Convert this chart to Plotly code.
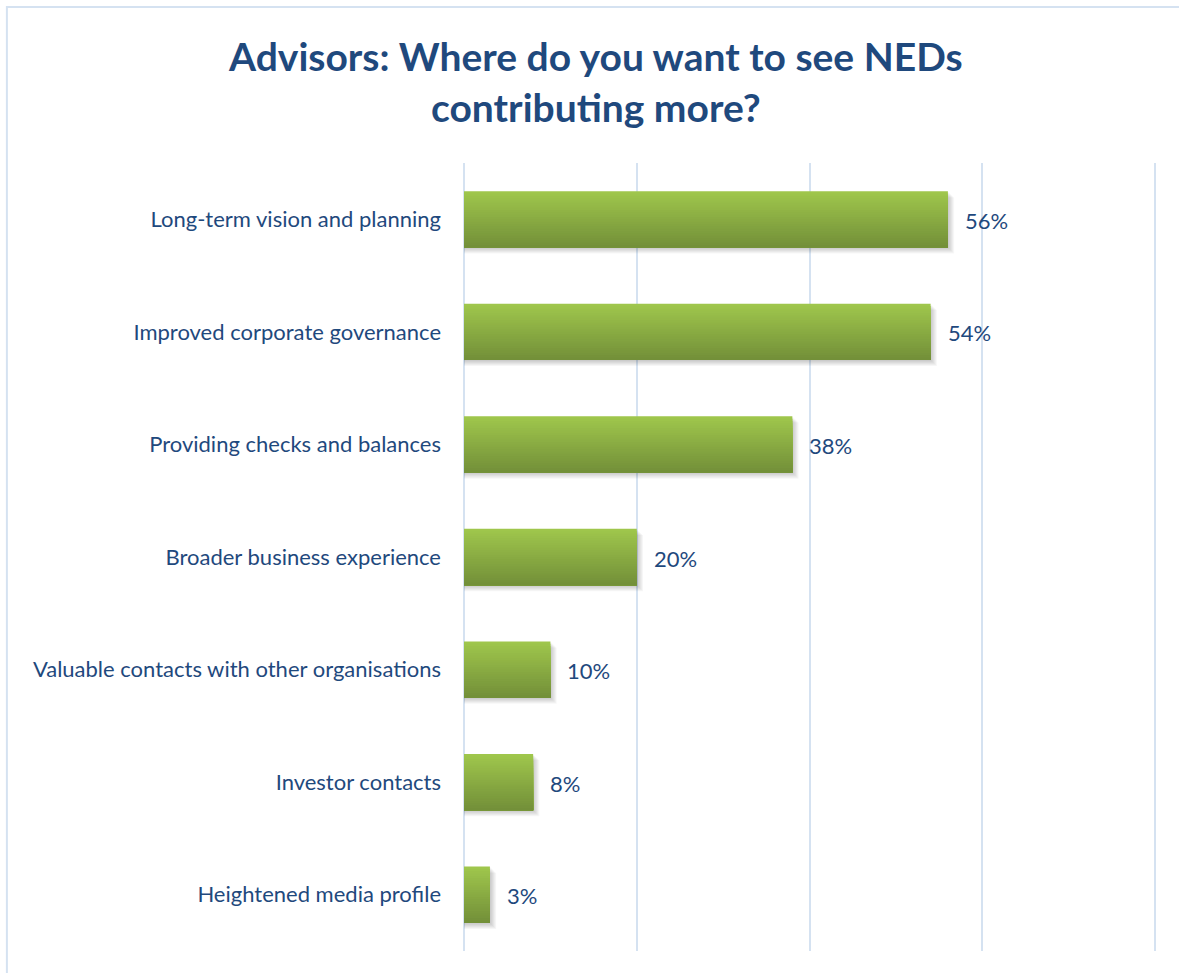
import plotly.graph_objects as go

# Survey responses (share of advisors), listed top to bottom
categories = [
    "Long-term vision and planning",
    "Improved corporate governance",
    "Providing checks and balances",
    "Broader business experience",
    "Valuable contacts with other organisations",
    "Investor contacts",
    "Heightened media profile",
]
values = [0.56, 0.54, 0.38, 0.20, 0.10, 0.08, 0.03]
value_labels = ["56%", "54%", "38%", "20%", "10%", "8%", "3%"]

TEXT = "#1f497d"
GRID = "#d5e2f1"
FONT = "Lato"

TOP_RGB = (159, 198, 76)
BOTTOM_RGB = (115, 144, 57)
BAR_W = 0.5
N_STRIPES = 24

fig = go.Figure()

# soft drop shadow underneath each bar
for j in range(1, 7):
    fig.add_trace(go.Bar(
        y=categories, x=[v + 0.0012 * j for v in values], orientation="h",
        width=BAR_W, offset=-BAR_W / 2 - 0.009 * j,
        marker=dict(color="rgba(0,0,0,0.035)", line=dict(width=0)),
        hoverinfo="skip", showlegend=False,
    ))

# vertical gradient fill: each layer spans from the bar bottom up to its own top edge
step = BAR_W / N_STRIPES
for k in range(N_STRIPES):
    t = k / (N_STRIPES - 1)
    r, g, b = (round(TOP_RGB[i] + (BOTTOM_RGB[i] - TOP_RGB[i]) * t) for i in range(3))
    fig.add_trace(go.Bar(
        y=categories, x=values, orientation="h",
        width=BAR_W - k * step, offset=-BAR_W / 2,
        marker=dict(color=f"rgb({r},{g},{b})", line=dict(width=0)),
        hoverinfo="skip", showlegend=False,
    ))

# value labels just past the end of each bar
for cat, v, lab in zip(categories, values, value_labels):
    fig.add_annotation(
        x=v, y=cat, text=lab, showarrow=False,
        xanchor="left", yanchor="middle", xshift=15, yshift=-1,
        font=dict(family=FONT, size=22, color=TEXT),
    )

# chart title, two centred lines
fig.add_annotation(
    text="<b>Advisors: Where do you want to see NEDs<br>contributing more?</b>",
    xref="paper", yref="paper", x=0.19, y=1.167,
    xanchor="center", yanchor="top", align="center", showarrow=False,
    font=dict(family=FONT, size=39, color=TEXT),
)

# light outer frame of the chart
fig.add_shape(
    type="rect", xref="paper", yref="paper",
    x0=-0.6596, x1=1.6, y0=-0.6, y1=1.198,
    line=dict(color=GRID, width=2), fillcolor="rgba(0,0,0,0)", layer="below",
)

fig.update_layout(
    width=1179, height=973,
    margin=dict(l=464, r=22, t=163, b=22),
    paper_bgcolor="white", plot_bgcolor="white",
    barmode="overlay",
    showlegend=False,
    xaxis=dict(
        range=[0, 0.802], tick0=0, dtick=0.2,
        showgrid=True, gridcolor=GRID, gridwidth=2,
        zeroline=True, zerolinecolor=GRID, zerolinewidth=2,
        showticklabels=False, showline=False, ticks="",
        fixedrange=True,
    ),
    yaxis=dict(
        categoryorder="array", categoryarray=categories[::-1],
        showgrid=False, zeroline=False, showline=False, ticks="",
        ticklabelstandoff=22,
        tickfont=dict(family=FONT, size=22, color=TEXT),
        fixedrange=True,
    ),
)

fig.write_html("out.html")
